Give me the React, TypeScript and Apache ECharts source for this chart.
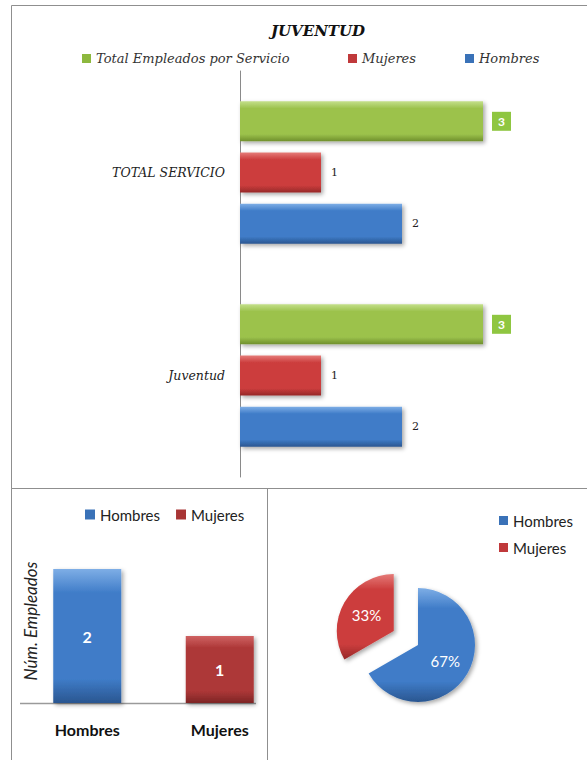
import React, { useEffect, useRef } from "react";
import * as echarts from "echarts";

// ---- data ----
const topTitle = "JUVENTUD";
const topCategories = ["Juventud", "TOTAL SERVICIO"];
const totalValues = [3, 3];
const mujeresValues = [1, 1];
const hombresValues = [2, 2];

const genderCategories = ["Hombres", "Mujeres"];
const hombresBar = [2, "-"];
const mujeresBar = ["-", 1];

const pieNames = ["Hombres", "Mujeres"];
const pieValues = [2, 1];

const SERIF = '"DejaVu Serif", serif';
const SANS = 'Lato, "Open Sans", sans-serif';

const vgrad = (a: string, b: string, c: string) =>
  new echarts.graphic.LinearGradient(0, 0, 0, 1, [
    { offset: 0, color: a },
    { offset: 0.18, color: b },
    { offset: 0.82, color: b },
    { offset: 1, color: c },
  ]);

const GREEN = ["#c3df8a", "#9cc24c", "#6f8f2c"];
const RED = ["#e57b78", "#cc3d3d", "#962828"];
const BLUE = ["#7eaee6", "#3f7cc8", "#2a5690"];
const DRED = ["#cf6262", "#ad3737", "#7d2525"];

export default function App() {
  const ref = useRef<HTMLDivElement>(null);
  useEffect(() => {
    document.body.style.margin = "0";
    const chart = echarts.init(ref.current!, null, { renderer: "svg" });
    const shadow = {
      shadowColor: "rgba(0,0,0,0.35)",
      shadowBlur: 4,
      shadowOffsetX: 2,
      shadowOffsetY: 2,
    };
    const valueLabel = {
      show: true,
      position: "right",
      distance: 10,
      color: "#222",
      fontFamily: SERIF,
      fontSize: 11,
    };
    const topLegendText = {
      fontFamily: SERIF,
      fontStyle: "italic",
      fontSize: 13,
      color: "#333",
    };
    const option: any = {
      animation: false,
      backgroundColor: "#fff",
      title: {
        text: topTitle,
        left: 313,
        top: 18,
        textAlign: "center",
        textStyle: {
          fontFamily: SERIF,
          fontStyle: "italic",
          fontWeight: "bold",
          fontSize: 15,
          color: "#111",
        },
      },
      legend: [
        {
          left: 77,
          top: 47,
          itemWidth: 9,
          itemHeight: 9,
          itemGap: 5,
          icon: "rect",
          textStyle: topLegendText,
          data: [{ name: "Total Empleados por Servicio", itemStyle: { color: "#8db83e" } }],
          selectedMode: false,
        },
        {
          left: 343,
          top: 47,
          itemWidth: 9,
          itemHeight: 9,
          icon: "rect",
          textStyle: topLegendText,
          data: [{ name: "Mujeres", itemStyle: { color: "#c0393b" } }],
          selectedMode: false,
        },
        {
          left: 460,
          top: 47,
          itemWidth: 9,
          itemHeight: 9,
          icon: "rect",
          textStyle: topLegendText,
          data: [{ name: "Hombres", itemStyle: { color: "#3a72b8" } }],
          selectedMode: false,
        },
        {
          left: 80,
          top: 502,
          itemWidth: 10,
          itemHeight: 10,
          itemGap: 16,
          icon: "rect",
          textStyle: { fontFamily: SANS, fontSize: 15, color: "#222" },
          data: [
            { name: "Hombres", itemStyle: { color: "#3a72b8" } },
            { name: "Mujeres", itemStyle: { color: "#a83535" } },
          ],
          selectedMode: false,
        },
        {
          left: 494,
          top: 508,
          orient: "vertical",
          itemWidth: 9,
          itemHeight: 9,
          itemGap: 12,
          icon: "rect",
          textStyle: { fontFamily: SANS, fontSize: 15, color: "#222" },
          data: [
            { name: "Hombres", itemStyle: { color: "#3a72b8" } },
            { name: "Mujeres", itemStyle: { color: "#c0393b" } },
          ],
          selectedMode: false,
        },
      ],
      grid: [
        { left: 240, top: 71, width: 283.5, height: 406 },
        { left: 21, top: 535.5, width: 265, height: 167.5 },
      ],
      xAxis: [
        { gridIndex: 0, type: "value", min: 0, max: 3.5, show: false },
        {
          gridIndex: 1,
          type: "category",
          data: genderCategories,
          axisLine: { show: false },
          axisTick: { show: false },
          axisLabel: {
            margin: 18,
            fontFamily: SANS,
            fontWeight: "bold",
            fontSize: 16,
            color: "#111",
          },
        },
      ],
      yAxis: [
        {
          gridIndex: 0,
          type: "category",
          data: topCategories,
          axisLine: { show: true, lineStyle: { color: "#8a8a8a", width: 1 } },
          axisTick: { show: false },
          axisLabel: {
            margin: 15,
            fontFamily: SERIF,
            fontStyle: "italic",
            fontSize: 12.5,
            color: "#222",
          },
        },
        {
          gridIndex: 1,
          type: "value",
          min: 0,
          max: 2.5,
          show: false,
          splitLine: { show: false },
        },
      ],
      series: [
        {
          name: "Total Empleados por Servicio",
          type: "bar",
          xAxisIndex: 0,
          yAxisIndex: 0,
          data: totalValues,
          barWidth: 40,
          barGap: "28%",
          itemStyle: { color: vgrad(GREEN[0], GREEN[1], GREEN[2]), ...shadow },
          label: {
            show: true,
            position: "right",
            distance: 9,
            color: "#fff",
            backgroundColor: "#8fc641",
            width: 8,
            height: 12,
            padding: [4, 5, 3, 6],
            lineHeight: 12,
            fontFamily: 'Lato, "DejaVu Sans", sans-serif',
            fontWeight: "bold",
            fontSize: 12,
          },
        },
        {
          name: "Mujeres",
          type: "bar",
          xAxisIndex: 0,
          yAxisIndex: 0,
          data: mujeresValues,
          barWidth: 40,
          barGap: "28%",
          itemStyle: { color: vgrad(RED[0], RED[1], RED[2]), ...shadow },
          label: valueLabel,
        },
        {
          name: "Hombres",
          type: "bar",
          xAxisIndex: 0,
          yAxisIndex: 0,
          data: hombresValues,
          barWidth: 40,
          barGap: "28%",
          itemStyle: { color: vgrad(BLUE[0], BLUE[1], BLUE[2]), ...shadow },
          label: valueLabel,
        },
        {
          name: "Hombres",
          type: "bar",
          xAxisIndex: 1,
          yAxisIndex: 1,
          stack: "g",
          data: hombresBar,
          barWidth: 68,
          itemStyle: { color: vgrad(BLUE[0], BLUE[1], BLUE[2]), ...shadow },
          label: {
            show: true,
            position: "inside",
            color: "#fff",
            fontFamily: SANS,
            fontWeight: "bold",
            fontSize: 16,
          },
        },
        {
          name: "Mujeres",
          type: "bar",
          xAxisIndex: 1,
          yAxisIndex: 1,
          stack: "g",
          data: mujeresBar,
          barWidth: 68,
          itemStyle: { color: vgrad(DRED[0], DRED[1], DRED[2]), ...shadow },
          label: {
            show: true,
            position: "inside",
            color: "#fff",
            fontFamily: SANS,
            fontWeight: "bold",
            fontSize: 16,
          },
        },
        {
          name: "Reparto",
          type: "pie",
          center: [418, 645],
          radius: 57,
          startAngle: 90,
          clockwise: true,
          selectedMode: "single",
          selectedOffset: 28,
          emphasis: { disabled: true },
          label: {
            show: true,
            position: "inside",
            color: "#fff",
            fontFamily: SANS,
            fontSize: 15,
            formatter: (p: any) => Math.round(p.percent) + "%",
          },
          labelLine: { show: false },
          data: pieNames.map((n, i) => ({
            name: n,
            value: pieValues[i],
            selected: n === "Mujeres",
            itemStyle: {
              color:
                n === "Hombres"
                  ? vgrad(BLUE[0], BLUE[1], BLUE[2])
                  : vgrad(RED[0], RED[1], RED[2]),
              ...shadow,
            },
          })),
        },
      ],
      graphic: [
        {
          type: "rect",
          shape: { x: 11.5, y: 5.5, width: 600, height: 483 },
          style: { fill: "none", stroke: "#8f8f8f", lineWidth: 1 },
          silent: true,
        },
        {
          type: "rect",
          shape: { x: 11.5, y: 488.5, width: 256, height: 300 },
          style: { fill: "none", stroke: "#8f8f8f", lineWidth: 1 },
          silent: true,
        },
        {
          type: "rect",
          shape: { x: 267.5, y: 488.5, width: 340, height: 300 },
          style: { fill: "none", stroke: "#8f8f8f", lineWidth: 1 },
          silent: true,
        },
        {
          type: "line",
          shape: { x1: 20, y1: 703.5, x2: 256, y2: 703.5 },
          style: { stroke: "#9a9a9a", lineWidth: 1.5 },
          silent: true,
        },
        {
          type: "text",
          x: 30,
          y: 621,
          rotation: Math.PI / 2,
          style: {
            text: "Núm. Empleados",
            align: "center",
            verticalAlign: "middle",
            font: 'italic 17px Lato, "Open Sans", sans-serif',
            fill: "#222",
          },
          silent: true,
        },
      ],
    };
    chart.setOption(option);
    return () => chart.dispose();
  }, []);
  return (
    <div
      ref={ref}
      style={{ position: "absolute", left: 0, top: 0, width: 587, height: 760 }}
    />
  );
}
